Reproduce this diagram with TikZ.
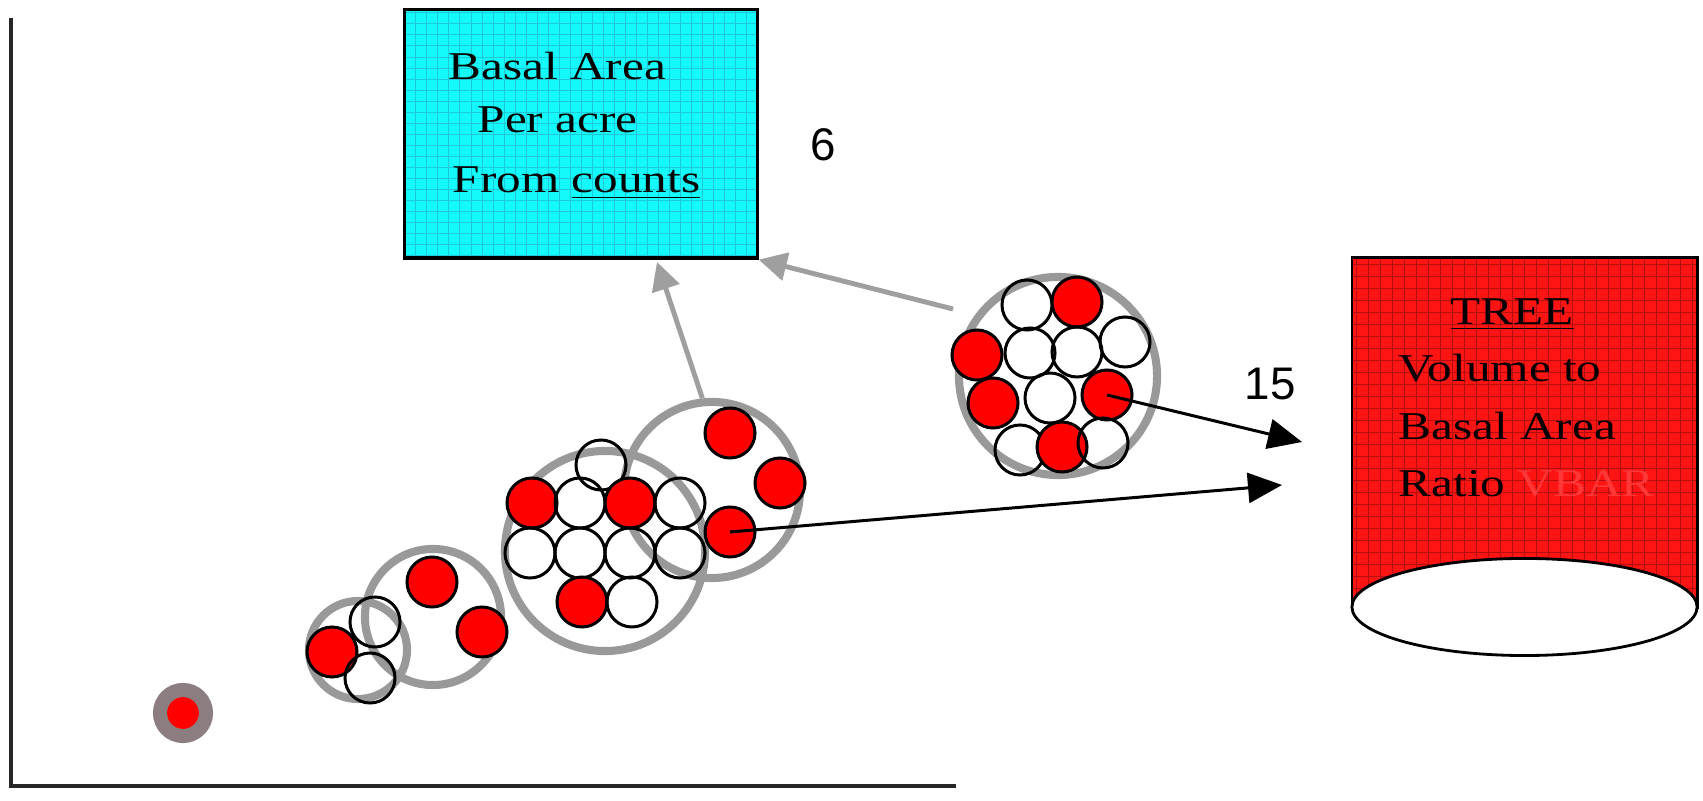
\documentclass[tikz,border=0pt]{standalone}
\usepackage{graphicx}
\usepackage{fontspec}
\setmainfont{Liberation Serif}
\newfontfamily\numfont{Liberation Sans}
\usetikzlibrary{arrows.meta}
\definecolor{boxcyan}{RGB}{20,250,250}
\definecolor{boxred}{RGB}{255,20,20}
\definecolor{vbarred}{RGB}{255,55,55}
\definecolor{ringgray}{RGB}{153,153,153}
\definecolor{dotgray}{RGB}{140,125,128}
\definecolor{cyangrid}{RGB}{30,200,215}
\definecolor{redgrid}{RGB}{180,15,15}
\newcommand{\squish}[1]{\scalebox{1}[0.8]{#1}}
\tikzset{
  tree/.style={circle, draw=black, line width=0.85pt, minimum size=5mm, inner sep=0pt},
  redtree/.style={tree, fill=red},
  plot/.style={circle, draw=ringgray, line width=2.3pt, inner sep=0pt},
  boxtext/.style={anchor=base west, inner sep=0pt, font=\fontsize{14}{16}\selectfont},
  numtext/.style={font=\numfont\fontsize{13}{15}\selectfont, inner sep=0pt},
  grayarrow/.style={draw=gray!75, line width=1.4pt, -{Triangle[length=2.8mm,width=2.8mm]}},
  blackarrow/.style={draw=black, line width=0.85pt, -{Triangle[length=3.4mm,width=3mm]}},
}
\begin{document}
\begin{tikzpicture}[x=0.01cm, y=-0.01cm]
\useasboundingbox (0,0) rectangle (1703,801);
% axes
\draw[line width=0.9pt, black!85] (11,18) -- (11,786) -- (956,786);

% basal area box
\node[rectangle, draw, line width=0.9pt, fill=boxcyan, minimum width=3.52cm, minimum height=2.48cm, inner sep=0pt,
  path picture={\draw[cyangrid, line width=0.25pt, step=0.11cm] (path picture bounding box.south west) grid (path picture bounding box.north east);}] (bapa) at (581,134) {};
\node[boxtext] (ba1) at (448,80) {\squish{Basal Area}};
\node[boxtext] (ba2) at (477,133) {\squish{Per acre}};
\node[boxtext] (ba3) at (452,193) {\squish{From \underline{counts}}};
\node[numtext] (six) at (823,145) {6};

% volume to basal area cylinder
\node[rectangle, draw, line width=0.8pt, fill=boxred, minimum width=3.45cm, minimum height=3.49cm, inner sep=0pt,
  path picture={\draw[redgrid, line width=0.3pt, step=0.12cm] (path picture bounding box.south west) grid (path picture bounding box.north east);}] (vbar) at (1524.5,432.5) {};
\draw[line width=0.8pt, fill=white] (1524.5,607) ellipse (1.725cm and 0.485cm);
\node[boxtext] (tr1) at (1450,325) {\squish{\underline{TREE}}};
\node[boxtext] (tr2) at (1398,382) {\squish{Volume to}};
\node[boxtext] (tr3) at (1398,440) {\squish{Basal Area}};
\node[boxtext] (tr4) at (1398,497) {\squish{Ratio \textcolor{vbarred}{VBAR}}};
\node[numtext] (fifteen) at (1270,384) {15};

% plots
\node[circle, draw=dotgray, fill=red, line width=4pt, minimum size=4.6mm, inner sep=0pt] (plot0) at (183,713) {};
\node[plot, minimum size=9.8mm] (plotA) at (358,650) {};
\node[plot, minimum size=13.6mm] (plotB) at (433,617) {};
\node[plot, minimum size=20mm] (plotC) at (605,551) {};
\node[plot, minimum size=17.6mm] (plotD) at (712,490) {};
\node[plot, minimum size=19.8mm] (plotE) at (1058,376) {};

% trees
\node[redtree] (a1) at (332,652) {};
\node[tree] (a2) at (375,622) {};
\node[tree] (a3) at (370,678) {};
\node[redtree] (b1) at (432,582) {};
\node[redtree] (b2) at (482,632) {};
\node[tree] (c1) at (601,465) {};
\node[redtree] (c2) at (532,503) {};
\node[tree] (c3) at (580,503) {};
\node[redtree] (c4) at (630,503) {};
\node[tree] (c5) at (680,503) {};
\node[tree] (c6) at (530,553) {};
\node[tree] (c7) at (580,553) {};
\node[tree] (c8) at (630,553) {};
\node[tree] (c9) at (680,553) {};
\node[redtree] (c10) at (582,602) {};
\node[tree] (c11) at (632,602) {};
\node[redtree] (d1) at (730,433) {};
\node[redtree] (d2) at (780,483) {};
\node[redtree] (d3) at (730,532) {};
\node[tree] (e1) at (1027,305) {};
\node[redtree] (e2) at (1077,302) {};
\node[redtree] (e3) at (977,355) {};
\node[tree] (e4) at (1030,353) {};
\node[tree] (e5) at (1077,352) {};
\node[tree] (e6) at (1125,342) {};
\node[redtree] (e7) at (993,403) {};
\node[tree] (e8) at (1050,398) {};
\node[redtree] (e9) at (1107,395) {};
\node[tree] (e10) at (1020,450) {};
\node[redtree] (e11) at (1062,447) {};
\node[tree] (e12) at (1103,443) {};

% arrows
\coordinate (tipA) at (657,262);
\coordinate (tailB) at (953,309);
\coordinate (tipC) at (1302,442);
\coordinate (tipD) at (1282,485);
\draw[grayarrow] (plotD.96) -- (tipA);
\draw[grayarrow] (tailB) -- (bapa.south east);
\draw[blackarrow] (e9.center) -- (tipC);
\draw[blackarrow] (d3.center) -- (tipD);
\end{tikzpicture}
\end{document}
